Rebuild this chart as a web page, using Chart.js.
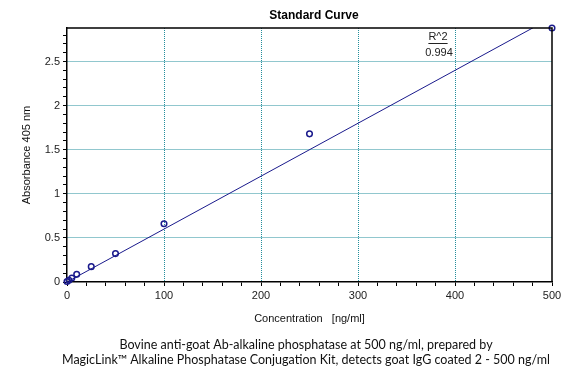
<!DOCTYPE html>
<html>
<head>
<meta charset="utf-8">
<script src="https://cdn.jsdelivr.net/npm/chart.js@4"></script>
<style>
html,body{margin:0;padding:0;background:#fff;}
#wrap{position:relative;width:576px;height:379px;}
</style>
</head>
<body>
<div id="wrap"><canvas id="c" width="576" height="379"></canvas></div>
<script>
// Data
const concentrations = [0, 2, 5, 10, 25, 50, 100, 250, 500];
const absorbances = [0.006, 0.02, 0.045, 0.087, 0.174, 0.322, 0.66, 1.68, 2.88];
const fitX = [0, 500];
const fitY = [0.0, 3.0];
const rSquared = "0.994";
const chartTitle = "Standard Curve";
const xTitle = "Concentration   [ng/ml]";
const yTitle = "Absorbance 405 nm";
const captionLines = [
  "Bovine anti-goat Ab-alkaline phosphatase at 500 ng/ml, prepared by",
  "MagicLink\u2122 Alkaline Phosphatase Conjugation Kit, detects goat IgG coated 2 - 500 ng/ml"
];

const navy = '#1a1a8c';
const teal = '#238e9c';
const tickFont = {family: "'Liberation Sans', Arial, sans-serif", size: 11};

const extras = {
  id: 'extras',
  afterDraw(chart) {
    const ctx = chart.ctx;
    const a = chart.chartArea;
    ctx.save();
    ctx.setLineDash([]);
    // top and right borders
    ctx.strokeStyle = '#000';
    ctx.lineWidth = 1.5;
    ctx.beginPath();
    ctx.moveTo(a.left, a.top);
    ctx.lineTo(a.right, a.top);
    ctx.lineTo(a.right, a.bottom);
    ctx.stroke();
    // title
    ctx.fillStyle = '#000';
    ctx.font = "bold 12px 'Liberation Sans', Arial, sans-serif";
    ctx.textAlign = 'center';
    ctx.textBaseline = 'middle';
    ctx.fillText(chartTitle, 314, 16);
    // R^2 annotation
    ctx.font = "11px 'Liberation Sans', Arial, sans-serif";
    ctx.fillStyle = '#222';
    ctx.fillText('R^2', 438, 37);
    const w = ctx.measureText('R^2').width;
    ctx.strokeStyle = '#222';
    ctx.lineWidth = 1;
    ctx.beginPath();
    ctx.moveTo(438 - w/2, 43.5);
    ctx.lineTo(438 + w/2, 43.5);
    ctx.stroke();
    ctx.fillText(rSquared, 439, 53);
    // caption
    ctx.font = "12.5px Lato, 'Liberation Sans', sans-serif";
    ctx.fillStyle = '#111';
    ctx.fillText(captionLines[0], 306, 345);
    ctx.fillText(captionLines[1], 306, 360);
    ctx.restore();
  }
};

new Chart(document.getElementById('c'), {
  type: 'scatter',
  data: {
    datasets: [
      {
        type: 'line',
        data: fitX.map((x, i) => ({x: x, y: fitY[i]})),
        borderColor: navy,
        borderWidth: 1,
        pointRadius: 0,
        fill: false,
        tension: 0
      },
      {
        data: concentrations.map((x, i) => ({x: x, y: absorbances[i]})),
        borderColor: navy,
        backgroundColor: 'rgba(255,255,255,0)',
        borderWidth: 1.5,
        pointRadius: 2.8,
        pointHoverRadius: 2.8,
        clip: false
      }
    ]
  },
  options: {
    responsive: false,
    devicePixelRatio: 1,
    animation: false,
    layout: {padding: {left: 0, right: 24, top: 28, bottom: 0}},
    plugins: {legend: {display: false}, tooltip: {enabled: false}, title: {display: false}},
    scales: {
      x: {
        type: 'linear',
        min: 0, max: 500,
        afterFit(s) { s.height = 97; },
        border: {display: true, color: '#000', width: 1.5, dash: [1, 1]},
        grid: {
          color: (c) => (c.tick && c.tick.value % 100 === 0 && c.tick.value !== 0 && c.tick.value !== 500) ? teal : 'rgba(0,0,0,0)',
          lineWidth: 1,
          tickColor: '#000',
          tickLength: 4,
          tickWidth: 1,
          tickBorderDash: []
        },
        ticks: {
          stepSize: 20,
          maxTicksLimit: 100,
          autoSkip: false,
          maxRotation: 0,
          padding: 3,
          color: '#222',
          font: tickFont,
          callback: (v) => (v % 100 === 0 ? String(v) : '')
        },
        title: {
          display: true,
          text: xTitle,
          color: '#111',
          font: tickFont,
          padding: {top: 0, bottom: 53}
        }
      },
      y: {
        type: 'linear',
        min: 0, max: 2.88,
        afterFit(s) { s.width = 67; },
        border: {display: true, color: '#000', width: 1.5, dash: [1, 1]},
        grid: {
          color: (c) => (c.tick && Math.round(c.tick.value * 10) % 5 === 0 && c.tick.value > 0.01) ? teal : 'rgba(0,0,0,0)',
          lineWidth: 1,
          tickColor: '#000',
          tickLength: 4,
          tickWidth: 1,
          tickBorderDash: []
        },
        ticks: {
          stepSize: 0.1,
          maxTicksLimit: 100,
          includeBounds: false,
          autoSkip: false,
          padding: 3,
          color: '#222',
          font: tickFont,
          callback: (v) => (Math.round(v * 10) % 5 === 0 ? String(Math.round(v * 10) / 10) : '')
        },
        title: {
          display: true,
          text: yTitle,
          color: '#111',
          font: tickFont,
          padding: {top: 20, bottom: 0}
        }
      }
    }
  },
  plugins: [extras]
});
</script>
</body>
</html>
